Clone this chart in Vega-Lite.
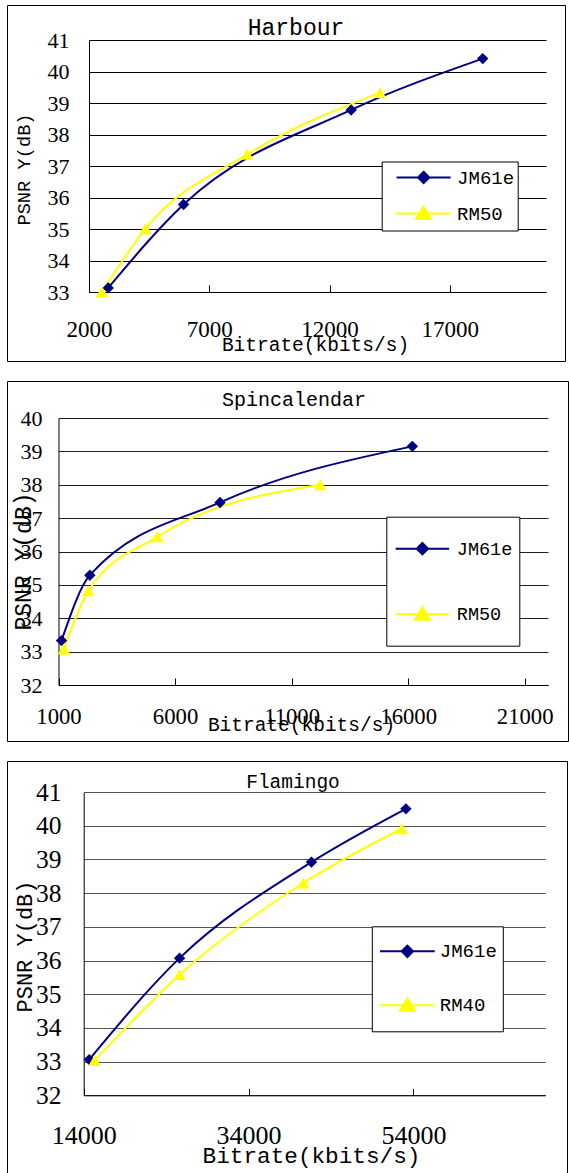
{
  "$schema": "https://vega.github.io/schema/vega-lite/v6.json",
  "padding": {"left": 6, "top": 4, "right": 0, "bottom": 0},
  "background": "white",
  "spacing": 18,
  "datasets": {
    "harbour": [
      {"codec": "JM61e", "bitrate": 2800, "psnr": 33.13},
      {"codec": "JM61e", "bitrate": 5930, "psnr": 35.78},
      {"codec": "JM61e", "bitrate": 12900, "psnr": 38.78},
      {"codec": "JM61e", "bitrate": 18370, "psnr": 40.41},
      {"codec": "RM50", "bitrate": 2540, "psnr": 33.0},
      {"codec": "RM50", "bitrate": 4350, "psnr": 35.01},
      {"codec": "RM50", "bitrate": 8580, "psnr": 37.37},
      {"codec": "RM50", "bitrate": 14100, "psnr": 39.33}
    ],
    "spin": [
      {"codec": "JM61e", "bitrate": 1130, "psnr": 33.33},
      {"codec": "JM61e", "bitrate": 2345, "psnr": 35.29},
      {"codec": "JM61e", "bitrate": 7930, "psnr": 37.47},
      {"codec": "JM61e", "bitrate": 16180, "psnr": 39.15},
      {"codec": "RM50", "bitrate": 1236, "psnr": 33.08},
      {"codec": "RM50", "bitrate": 2281, "psnr": 34.82},
      {"codec": "RM50", "bitrate": 5243, "psnr": 36.44},
      {"codec": "RM50", "bitrate": 12234, "psnr": 38.0}
    ],
    "flamingo": [
      {"codec": "JM61e", "bitrate": 14670, "psnr": 33.06},
      {"codec": "JM61e", "bitrate": 25630, "psnr": 36.07},
      {"codec": "JM61e", "bitrate": 41630, "psnr": 38.92},
      {"codec": "JM61e", "bitrate": 53090, "psnr": 40.5},
      {"codec": "RM40", "bitrate": 15320, "psnr": 33.03},
      {"codec": "RM40", "bitrate": 25630, "psnr": 35.58},
      {"codec": "RM40", "bitrate": 40660, "psnr": 38.3},
      {"codec": "RM40", "bitrate": 52560, "psnr": 39.91}
    ]
  },
  "config": {
    "view": {"stroke": "black", "strokeWidth": 1},
    "axis": {
      "labelColor": "black", "titleColor": "black", "domainColor": "black", "tickColor": "black",
      "gridColor": "black", "gridOpacity": 1, "labelFont": "Liberation Serif", "titleFont": "Liberation Mono",
      "titleFontWeight": "normal", "labelFlush": false, "labelOverlap": false, "zindex": 1,
      "titleBaseline": "middle", "titleAlign": "center"
    },
    "title": {"font": "Liberation Mono", "fontWeight": "normal", "color": "black", "anchor": "middle", "frame": "group", "baseline": "middle"},
    "legend": {"labelFont": "Liberation Mono", "labelColor": "black", "strokeColor": "black", "fillColor": "white", "symbolStrokeWidth": 2, "symbolOpacity": 1, "labelBaseline": "middle"}
  },
  "resolve": {
    "scale": {"fill": "independent", "stroke": "independent", "shape": "independent", "x": "independent", "y": "independent"},
    "legend": {"fill": "independent", "stroke": "independent", "shape": "independent"}
  },
  "vconcat": [
    {
      "width": 558, "height": 356,
      "title": {"text": "Harbour", "fontSize": 23, "dx": 10, "offset": -35},
      "data": {"name": "harbour"},
      "encoding": {
        "x": {"field": "bitrate", "type": "quantitative",
              "scale": {"domain": [2000, 21000], "range": [82, 539], "nice": false, "zero": false},
              "axis": {"title": "Bitrate(kbits/s)", "values": [2000, 7000, 12000, 17000], "format": "d", "offset": -69,
                       "labelFontSize": 23, "labelBaseline": "middle", "labelPadding": 44, "ticks": true, "tickSize": -7,
                       "grid": false, "titleFontSize": 19.5, "titleX": 308, "titleY": 52}},
        "y": {"field": "psnr", "type": "quantitative",
              "scale": {"domain": [33, 41], "range": [287, 35], "nice": false, "zero": false},
              "axis": {"title": "PSNR Y(dB)", "values": [33, 34, 35, 36, 37, 38, 39, 40, 41], "offset": -82,
                       "labelFontSize": 22, "labelPadding": 20, "ticks": false, "grid": true,
                       "titleFontSize": 18.7, "titleX": -66, "titleY": 164}}
      },
      "layer": [
        {"transform": [{"filter": "datum.codec == 'JM61e'"}],
         "mark": {"type": "line", "interpolate": "monotone", "strokeWidth": 2, "color": "#000080"}},
        {"transform": [{"filter": "datum.codec != 'JM61e'"}],
         "mark": {"type": "line", "interpolate": "monotone", "strokeWidth": 2, "color": "#FFFF00"}},
        {"transform": [{"filter": "datum.codec == 'JM61e'"}],
         "mark": {"type": "point", "shape": "diamond", "filled": true, "size": 130, "color": "#000080", "opacity": 1}},
        {"transform": [{"filter": "datum.codec != 'JM61e'"}],
         "mark": {"type": "point", "shape": "triangle-up", "filled": true, "size": 160, "color": "#FFFF00", "opacity": 1}},
        {"mark": {"type": "point", "opacity": 0, "filled": true},
         "encoding": {
           "fill": {"field": "codec", "type": "nominal", "scale": {"domain": ["JM61e", "RM50"], "range": ["#000080", "#FFFF00"]},
                    "legend": {"orient": "none", "legendX": 374.7, "legendY": 156.5, "padding": 3, "rowPadding": 8, "symbolSize": 538, "symbolOffset": 25.9, "labelOffset": 20.5, "labelFontSize": 19, "title": null}},
           "stroke": {"field": "codec", "type": "nominal", "scale": {"domain": ["JM61e", "RM50"], "range": ["#000080", "#FFFF00"]},
                    "legend": {"orient": "none", "legendX": 374.7, "legendY": 156.5, "padding": 3, "rowPadding": 8, "symbolSize": 538, "symbolOffset": 25.9, "labelOffset": 20.5, "labelFontSize": 19, "title": null}},
           "shape": {"field": "codec", "type": "nominal", "scale": {"domain": ["JM61e", "RM50"], "range": ["M-2.33,0L2.33,0M0,-0.49L0.49,0L0,0.49L-0.49,0ZM0,-0.78M0,0.78", "M-2.33,0L2.33,0M0,-0.6L0.65,0.47L-0.65,0.47ZM0,-0.78M0,0.78"]},
                    "legend": {"orient": "none", "legendX": 374.7, "legendY": 156.5, "padding": 3, "rowPadding": 8, "symbolSize": 538, "symbolOffset": 25.9, "labelOffset": 20.5, "labelFontSize": 19, "title": null}}
         }},
        {"data": {"values": [{}]},
         "mark": {"type": "rect", "fill": "transparent", "stroke": "#808080", "strokeWidth": 1.5},
         "encoding": {"x": {"datum": 2000}, "x2": {"datum": 21000}, "y": {"datum": 33}, "y2": {"datum": 41}}}
      ]
    },
    {
      "width": 561, "height": 360,
      "title": {"text": "Spincalendar", "fontSize": 20, "dx": 6.5, "offset": -29},
      "data": {"name": "spin"},
      "encoding": {
        "x": {"field": "bitrate", "type": "quantitative",
              "scale": {"domain": [1000, 22000], "range": [51.5, 541], "nice": false, "zero": false},
              "axis": {"title": "Bitrate(kbits/s)", "values": [1000, 6000, 11000, 16000, 21000], "format": "d", "offset": -56,
                       "labelFontSize": 22.7, "labelBaseline": "middle", "labelPadding": 38, "ticks": true, "tickSize": -7,
                       "grid": false, "titleFontSize": 19.5, "titleX": 294, "titleY": 39}},
        "y": {"field": "psnr", "type": "quantitative",
              "scale": {"domain": [32, 40], "range": [304, 37], "nice": false, "zero": false},
              "axis": {"title": "PSNR Y(dB)", "values": [32, 33, 34, 35, 36, 37, 38, 39, 40], "offset": -51.5,
                       "labelFontSize": 22, "labelPadding": 16.5, "ticks": false, "grid": true, "gridColor": "#202020",
                       "titleFontSize": 23, "titleX": -35.5, "titleY": 180}}
      },
      "layer": [
        {"transform": [{"filter": "datum.codec == 'JM61e'"}],
         "mark": {"type": "line", "interpolate": "monotone", "strokeWidth": 2, "color": "#000080"}},
        {"transform": [{"filter": "datum.codec != 'JM61e'"}],
         "mark": {"type": "line", "interpolate": "monotone", "strokeWidth": 2, "color": "#FFFF00"}},
        {"transform": [{"filter": "datum.codec == 'JM61e'"}],
         "mark": {"type": "point", "shape": "diamond", "filled": true, "size": 130, "color": "#000080", "opacity": 1}},
        {"transform": [{"filter": "datum.codec != 'JM61e'"}],
         "mark": {"type": "point", "shape": "triangle-up", "filled": true, "size": 160, "color": "#FFFF00", "opacity": 1}},
        {"mark": {"type": "point", "opacity": 0, "filled": true},
         "encoding": {
           "fill": {"field": "codec", "type": "nominal", "scale": {"domain": ["JM61e", "RM50"], "range": ["#000080", "#FFFF00"]},
                    "legend": {"orient": "none", "legendX": 379.3, "legendY": 135.7, "padding": 6, "rowPadding": 14.5, "symbolSize": 2421, "symbolOffset": 4.1, "labelOffset": 8.4, "labelFontSize": 18.5, "title": null}},
           "stroke": {"field": "codec", "type": "nominal", "scale": {"domain": ["JM61e", "RM50"], "range": ["#000080", "#FFFF00"]},
                    "legend": {"orient": "none", "legendX": 379.3, "legendY": 135.7, "padding": 6, "rowPadding": 14.5, "symbolSize": 2421, "symbolOffset": 4.1, "labelOffset": 8.4, "labelFontSize": 18.5, "title": null}},
           "shape": {"field": "codec", "type": "nominal", "scale": {"domain": ["JM61e", "RM50"], "range": ["M-1.087,0L1.087,0M0,-0.232L0.232,0L0,0.232L-0.232,0ZM0,-0.85M0,0.85", "M-1.087,0L1.087,0M0,-0.285L0.305,0.224L-0.305,0.224ZM0,-0.85M0,0.85"]},
                    "legend": {"orient": "none", "legendX": 379.3, "legendY": 135.7, "padding": 6, "rowPadding": 14.5, "symbolSize": 2421, "symbolOffset": 4.1, "labelOffset": 8.4, "labelFontSize": 18.5, "title": null}}
         }},
        {"data": {"values": [{}]},
         "mark": {"type": "rect", "fill": "transparent", "stroke": "#808080", "strokeWidth": 1.5},
         "encoding": {"x": {"datum": 1000}, "x2": {"datum": 22000}, "y": {"datum": 32}, "y2": {"datum": 40}}}
      ]
    },
    {
      "width": 560, "height": 415,
      "title": {"text": "Flamingo", "fontSize": 19.5, "dx": 6, "offset": -31},
      "data": {"name": "flamingo"},
      "encoding": {
        "x": {"field": "bitrate", "type": "quantitative",
              "scale": {"domain": [14000, 70000], "range": [76.7, 538.3], "nice": false, "zero": false},
              "axis": {"title": "Bitrate(kbits/s)", "values": [14000, 34000, 54000], "format": "d", "offset": -80.7,
                       "labelFontSize": 26, "labelBaseline": "middle", "labelPadding": 46.7, "ticks": true, "tickSize": -7,
                       "grid": false, "titleFontSize": 22.7, "titleX": 304, "titleY": 59.7}},
        "y": {"field": "psnr", "type": "quantitative",
              "scale": {"domain": [32, 41], "range": [334.3, 31], "nice": false, "zero": false},
              "axis": {"title": "PSNR Y(dB)", "values": [32, 33, 34, 35, 36, 37, 38, 39, 40, 41], "offset": -76.7,
                       "labelFontSize": 25.5, "labelPadding": 22.7, "ticks": false, "grid": true, "gridColor": "#555555",
                       "titleFontSize": 22, "titleX": -59.1, "titleY": 185}}
      },
      "layer": [
        {"transform": [{"filter": "datum.codec == 'JM61e'"}],
         "mark": {"type": "line", "interpolate": "monotone", "strokeWidth": 2, "color": "#000080"}},
        {"transform": [{"filter": "datum.codec != 'JM61e'"}],
         "mark": {"type": "line", "interpolate": "monotone", "strokeWidth": 2, "color": "#FFFF00"}},
        {"transform": [{"filter": "datum.codec == 'JM61e'"}],
         "mark": {"type": "point", "shape": "diamond", "filled": true, "size": 130, "color": "#000080", "opacity": 1}},
        {"transform": [{"filter": "datum.codec != 'JM61e'"}],
         "mark": {"type": "point", "shape": "triangle-up", "filled": true, "size": 160, "color": "#FFFF00", "opacity": 1}},
        {"mark": {"type": "point", "opacity": 0, "filled": true},
         "encoding": {
           "fill": {"field": "codec", "type": "nominal", "scale": {"domain": ["JM61e", "RM40"], "range": ["#000080", "#FFFF00"]},
                    "legend": {"orient": "none", "legendX": 364.8, "legendY": 165.3, "padding": 5, "rowPadding": 12, "symbolSize": 1444, "symbolOffset": 10.6, "labelOffset": 12.4, "labelFontSize": 19, "title": null}},
           "stroke": {"field": "codec", "type": "nominal", "scale": {"domain": ["JM61e", "RM40"], "range": ["#000080", "#FFFF00"]},
                    "legend": {"orient": "none", "legendX": 364.8, "legendY": 165.3, "padding": 5, "rowPadding": 12, "symbolSize": 1444, "symbolOffset": 10.6, "labelOffset": 12.4, "labelFontSize": 19, "title": null}},
           "shape": {"field": "codec", "type": "nominal", "scale": {"domain": ["JM61e", "RM40"], "range": ["M-1.44,0L1.44,0M0,-0.3L0.3,0L0,0.3L-0.3,0ZM0,-0.868M0,0.868", "M-1.44,0L1.44,0M0,-0.368L0.395,0.29L-0.395,0.29ZM0,-0.868M0,0.868"]},
                    "legend": {"orient": "none", "legendX": 364.8, "legendY": 165.3, "padding": 5, "rowPadding": 12, "symbolSize": 1444, "symbolOffset": 10.6, "labelOffset": 12.4, "labelFontSize": 19, "title": null}}
         }},
        {"data": {"values": [{}]},
         "mark": {"type": "rect", "fill": "transparent", "stroke": "#808080", "strokeWidth": 1.5},
         "encoding": {"x": {"datum": 14000}, "x2": {"datum": 70000}, "y": {"datum": 32}, "y2": {"datum": 41}}}
      ]
    }
  ]
}
